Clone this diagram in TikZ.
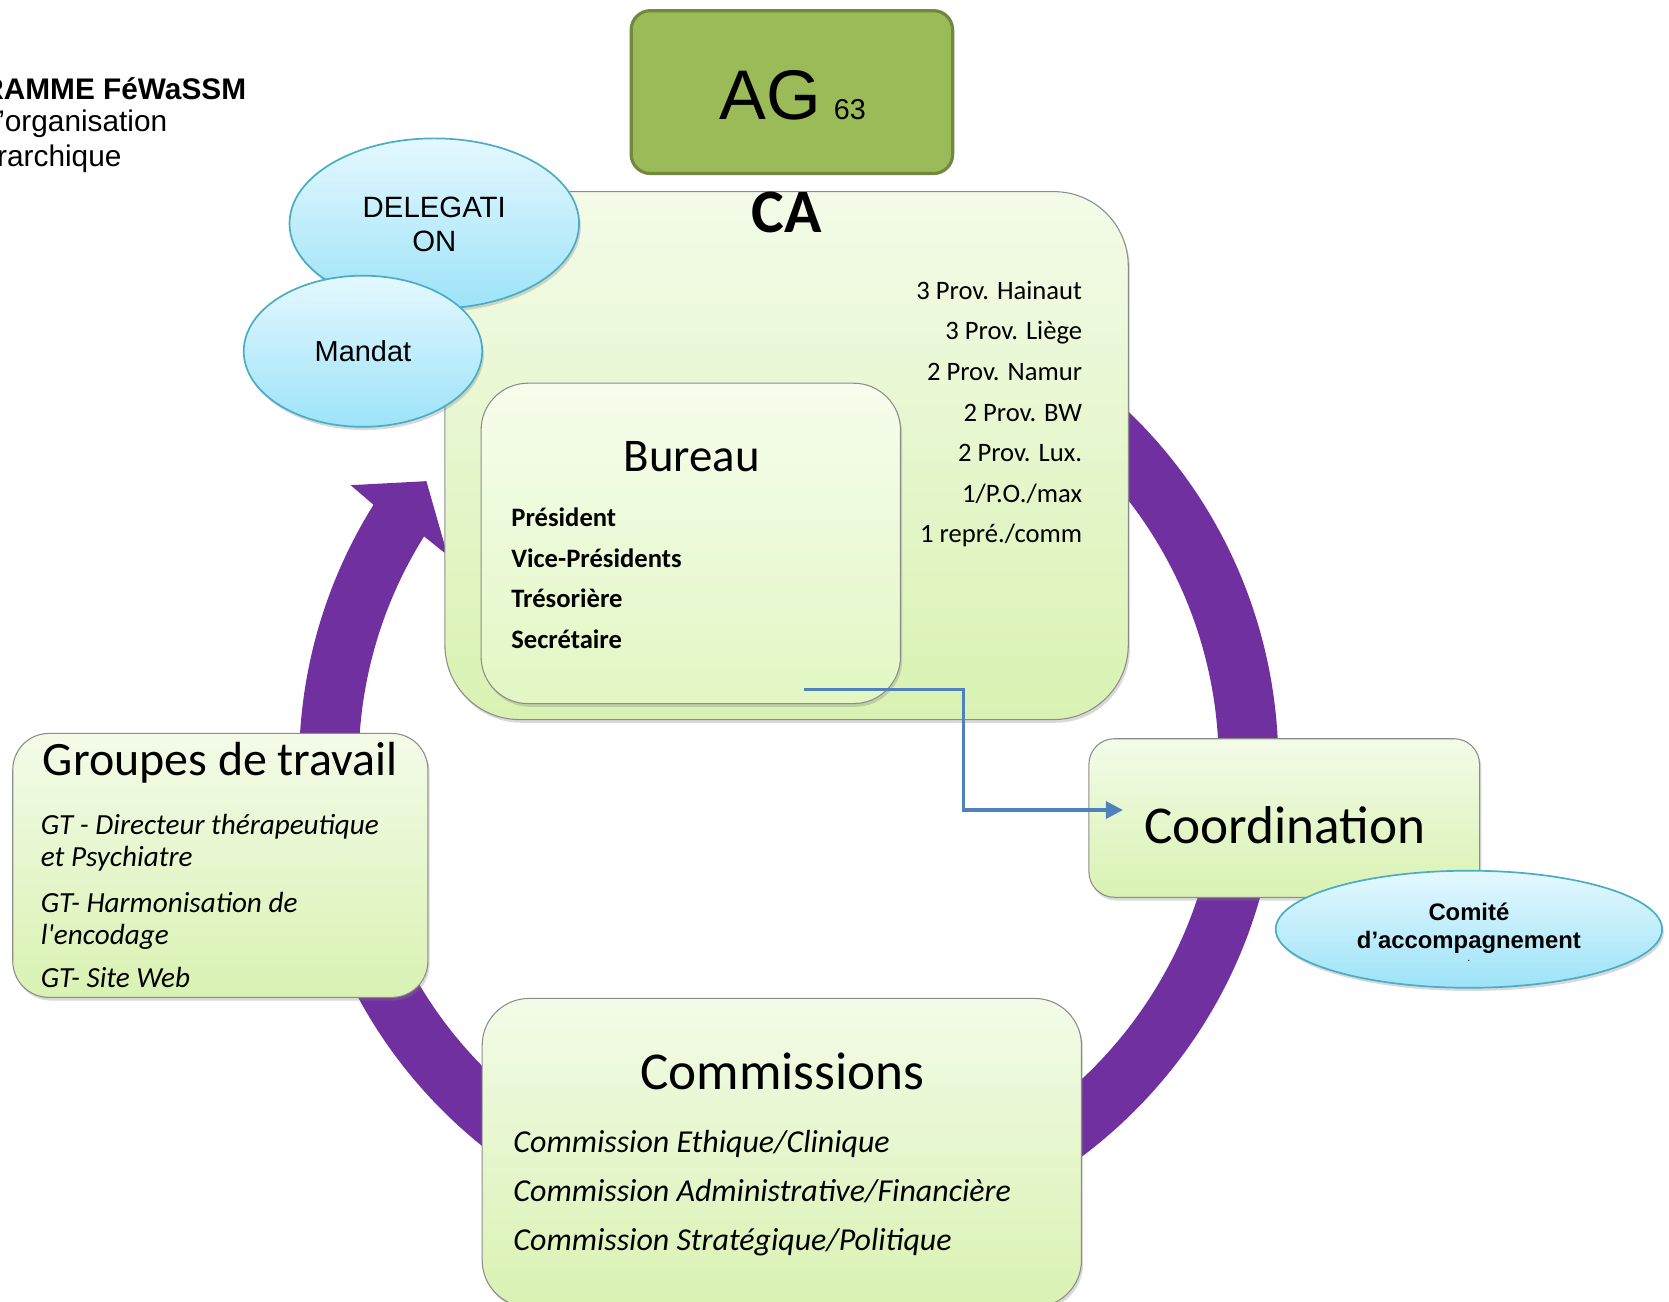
\documentclass[tikz,border=0pt]{standalone}
\usepackage{fontspec}
\setmainfont{Carlito}[Ligatures=TeXOff]
\newfontfamily\arial{Liberation Sans}
\usetikzlibrary{calc}
\usetikzlibrary{shapes}
\usetikzlibrary{shadows}
\usetikzlibrary{arrows.meta}
\definecolor{ringpurple}{HTML}{7030A0}
\definecolor{boxtop}{HTML}{F3FBE8}
\definecolor{boxbot}{HTML}{D9F2B2}
\definecolor{innertop}{HTML}{F6FDEC}
\definecolor{innerbot}{HTML}{E2F7C3}
\definecolor{bubtop}{HTML}{E4F8FE}
\definecolor{bubbot}{HTML}{9DE3F8}
\definecolor{bubline}{HTML}{4BACC6}
\definecolor{agfill}{HTML}{9BBB59}
\definecolor{agline}{HTML}{71893F}
\definecolor{linkblue}{HTML}{4F81BD}

\begin{document}
\begin{tikzpicture}[x=.5pt, y=-.5pt,
  box/.style={draw=black!45, line width=.5pt, top color=boxtop, bottom color=boxbot,
    drop shadow={shadow xshift=.8pt, shadow yshift=-1.5pt, opacity=.3}},
  bubble/.style={ellipse, draw=bubline, line width=.8pt, top color=bubtop, bottom color=bubbot,
    drop shadow={shadow xshift=.8pt, shadow yshift=-1.5pt, opacity=.3}},
  txt/.style={inner sep=0pt},
  link/.style={draw=linkblue, line width=1.5pt, -{Triangle[length=8pt,width=8pt]}}]
\useasboundingbox (0,0) rectangle (1568,1223);
\coordinate (o) at (741,718);
% cycle ring with its head
\fill[ringpurple] ([shift={(-148:404)}]o) arc[start angle=-148, end angle=-410, radius=404]
  -- ([shift={(-410:460)}]o) arc[start angle=-410, end angle=-148, radius=460]
  -- ([shift={(-147.5:488)}]o) -- ([shift={(-142:432)}]o) -- ([shift={(-148.5:376)}]o) -- cycle;
% title
\node[txt, anchor=base west, font=\arial\bfseries\fontsize{14pt}{16pt}\selectfont] (t1) at (-17,93) {RAMME FéWaSSM};
\node[txt, anchor=base west, font=\arial\fontsize{14pt}{16pt}\selectfont] (t2) at (-2,124) {’organisation};
\node[txt, anchor=base west, font=\arial\fontsize{14pt}{16pt}\selectfont] (t3) at (-3,156) {rarchique};
% AG
\node[draw=agline, fill=agfill, line width=1.5pt, rounded corners=9pt, minimum width=151pt, minimum height=76.5pt] (ag) at (744,86.5) {};
\node[txt, anchor=base west, font=\arial\fontsize{33pt}{36pt}\selectfont] (agt) at (676,112) {AG};
\node[txt, anchor=base west, font=\arial\fontsize{13.5pt}{15pt}\selectfont] (agn) at (783,112) {63};
% CA
\node[box, rounded corners=35pt, minimum width=321pt, minimum height=248pt] (ca) at (739,428) {};
\node[txt, anchor=base, font=\bfseries\fontsize{29pt}{32pt}\selectfont] (cat) at (739,218) {CA};
\node[txt, anchor=base east, font=\fontsize{12.5pt}{15pt}\selectfont] (p1) at (1017,281) {3 Prov. Hainaut};
\node[txt, anchor=base east, font=\fontsize{12.5pt}{15pt}\selectfont] (p2) at (1017,319) {3 Prov. Liège};
\node[txt, anchor=base east, font=\fontsize{12.5pt}{15pt}\selectfont] (p3) at (1017,357) {2 Prov. Namur};
\node[txt, anchor=base east, font=\fontsize{12.5pt}{15pt}\selectfont] (p4) at (1017,396) {2 Prov. BW};
\node[txt, anchor=base east, font=\fontsize{12.5pt}{15pt}\selectfont] (p5) at (1017,434) {2 Prov. Lux.};
\node[txt, anchor=base east, font=\fontsize{12.5pt}{15pt}\selectfont] (p6) at (1017,472) {1/P.O./max};
\node[txt, anchor=base east, font=\fontsize{12.5pt}{15pt}\selectfont] (p7) at (1017,510) {1 repré./comm};
% Bureau
\node[box, top color=innertop, bottom color=innerbot, rounded corners=22pt, minimum width=197pt, minimum height=150.5pt] (bu) at (649,510.5) {};
\node[txt, anchor=base, font=\fontsize{22pt}{26pt}\selectfont] (but) at (650,443) {Bureau};
\node[txt, anchor=base west, font=\bfseries\fontsize{12.5pt}{15pt}\selectfont] (b1t) at (480,495) {Président};
\node[txt, anchor=base west, font=\bfseries\fontsize{12.5pt}{15pt}\selectfont] (b2t) at (480,533) {Vice-Présidents};
\node[txt, anchor=base west, font=\bfseries\fontsize{12.5pt}{15pt}\selectfont] (b3t) at (480,571) {Trésorière};
\node[txt, anchor=base west, font=\bfseries\fontsize{12.5pt}{15pt}\selectfont] (b4t) at (480,609) {Secrétaire};
% bubbles
\node[bubble, minimum width=136pt, minimum height=80pt] (de) at (408,210) {};
\node[txt, anchor=base, font=\arial\fontsize{13.8pt}{16pt}\selectfont] (de1) at (408,204) {DELEGATI};
\node[txt, anchor=base, font=\arial\fontsize{13.8pt}{16pt}\selectfont] (de2) at (408,236) {ON};
\node[bubble, minimum width=112pt, minimum height=71pt] (ma) at (341,330) {};
\node[txt, anchor=base, font=\arial\fontsize{13.6pt}{16pt}\selectfont] (mat) at (341,340) {Mandat};
% Groupes de travail
\node[box, rounded corners=17pt, minimum width=195pt, minimum height=124pt] (gt) at (207,813) {};
\node[txt, anchor=base, font=\fontsize{22.5pt}{26pt}\selectfont] (gtt) at (207,729) {Groupes de travail};
\node[txt, anchor=base west, font=\itshape\fontsize{13.7pt}{16pt}\selectfont] (g1) at (38,784) {GT - Directeur thérapeutique};
\node[txt, anchor=base west, font=\itshape\fontsize{13.7pt}{16pt}\selectfont] (g2) at (38,814) {et Psychiatre};
\node[txt, anchor=base west, font=\itshape\fontsize{13.7pt}{16pt}\selectfont] (g3) at (38,857) {GT- Harmonisation de};
\node[txt, anchor=base west, font=\itshape\fontsize{13.7pt}{16pt}\selectfont] (g4) at (38,887) {l'encodage};
\node[txt, anchor=base west, font=\itshape\fontsize{13.7pt}{16pt}\selectfont] (g5) at (38,928) {GT- Site Web};
% Coordination
\node[box, rounded corners=12pt, minimum width=183.5pt, minimum height=74.5pt] (co) at (1206.5,768.5) {};
\node[txt, anchor=base, font=\fontsize{25pt}{30pt}\selectfont] (cot) at (1207,792) {Coordination};
\node[bubble, minimum width=181.5pt, minimum height=55pt] (cm) at (1380,873) {};
\node[txt, anchor=base, font=\arial\bfseries\fontsize{11.2pt}{13pt}\selectfont] (cm1) at (1380,865) {Comité};
\node[txt, anchor=base, font=\arial\bfseries\fontsize{11.2pt}{13pt}\selectfont] (cm2) at (1380,891) {d’accompagnement};
\node[txt, anchor=base, font=\arial\fontsize{5pt}{6pt}\selectfont] (cm3) at (1380,903) {.};
% Commissions
\node[box, rounded corners=22pt, minimum width=281.5pt, minimum height=145pt] (cs) at (734.5,1083) {};
\node[txt, anchor=base, font=\fontsize{25pt}{30pt}\selectfont] (cst) at (735,1024) {Commissions};
\node[txt, anchor=base west, font=\itshape\fontsize{15pt}{18pt}\selectfont] (c1t) at (482,1083) {Commission Ethique/Clinique};
\node[txt, anchor=base west, font=\itshape\fontsize{15pt}{18pt}\selectfont] (c2t) at (482,1129) {Commission Administrative/Financière};
\node[txt, anchor=base west, font=\itshape\fontsize{15pt}{18pt}\selectfont] (c3t) at (482,1175) {Commission Stratégique/Politique};
% Bureau -> Coordination
\coordinate (b1) at (755,648);
\coordinate (m) at (905,700);
\coordinate (c1) at (1055,761);
\draw[link] (b1) -| (m) |- (c1);
\end{tikzpicture}
\end{document}
